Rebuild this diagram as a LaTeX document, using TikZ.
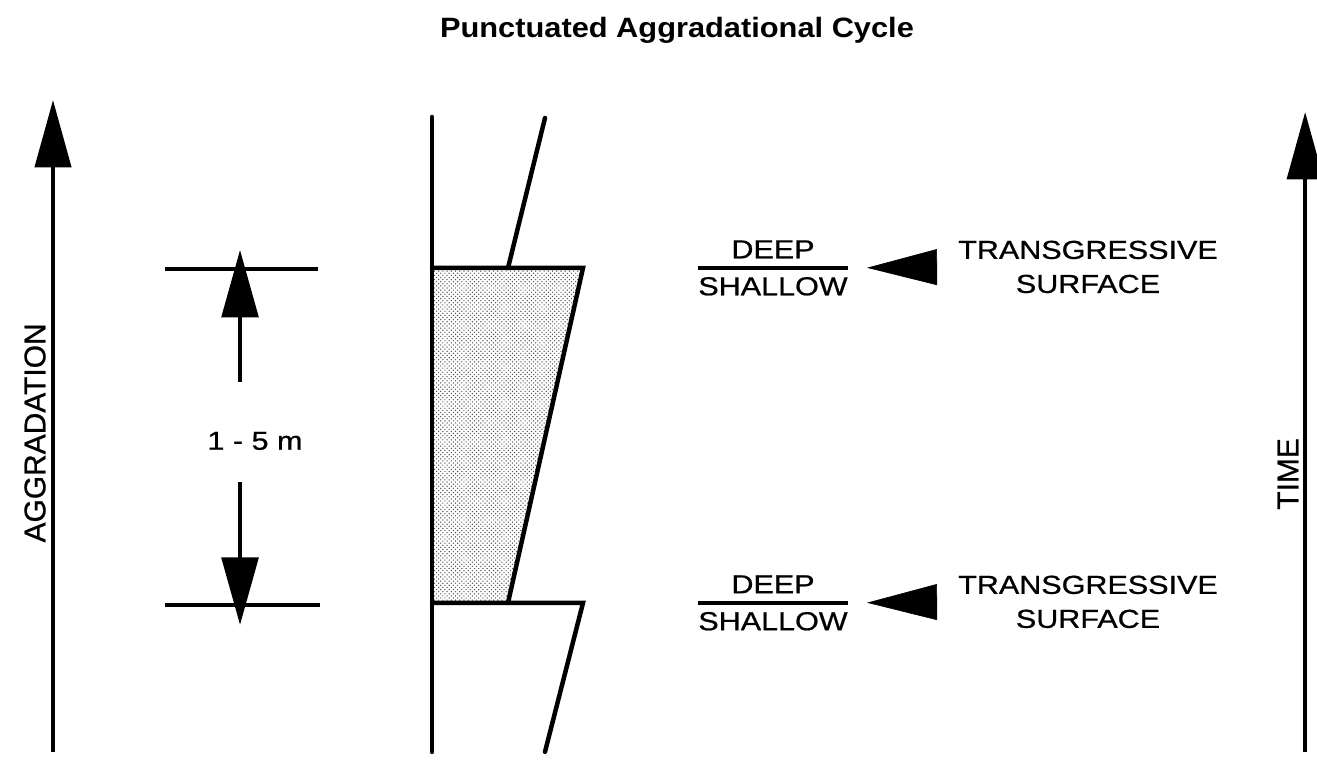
\documentclass[tikz,border=0pt]{standalone}
\usepackage{fontspec}
\setmainfont{Liberation Sans}
\newfontfamily\labfont[FakeBold=0.7]{Liberation Sans}
\usetikzlibrary{arrows.meta,patterns}

\begin{document}
\begin{tikzpicture}[x=0.01938cm,y=-0.025cm,xscale=1.29,
  lbl/.style={transform shape,xscale=0.91,inner sep=0pt,align=center,font=\labfont\fontsize{18.5}{24.2}\selectfont},
  frac/.style={lbl,font=\labfont\fontsize{18.5}{26.3}\selectfont},
  vlbl/.style={rotate=90,inner sep=0pt,font=\labfont\fontsize{21.3}{25}\selectfont},
  col/.style={line width=3.2pt,line cap=round},
  axis/.style={line width=3.2pt,-{Triangle[length=48pt,width=25.6pt]}},
  dimarrow/.style={line width=3pt,-{Triangle[length=48pt,width=26pt]}},
  surfarrow/.style={line width=0.4pt,-{Triangle[length=49.8pt,width=25.6pt]},shorten >=13.5pt,shorten <=14.9pt}]
\useasboundingbox (0,0) rectangle (1317,769);

% title
\node[transform shape,xscale=0.853,inner sep=0pt,font=\fontsize{19.9}{24}\selectfont\bfseries] (title) at (677,30) {Punctuated Aggradational Cycle};

% axes
\coordinate (agg0) at (53,752);
\coordinate (agg1) at (53,100);
\coordinate (time0) at (1305,752);
\coordinate (time1) at (1305,112);
\draw[axis] (agg0) -- (agg1);
\draw[axis] (time0) -- (time1);
\node[vlbl] (aggr) at (35,433) {AGGRADATION};
\node[vlbl] (time) at (1288,474) {TIME};

% column
\fill[pattern=crosshatch dots,pattern color=black!70] (432,268) -- (583,268) -- (508,603) -- (432,603) -- cycle;
\draw[col] (432,117) -- (432,752);
\draw[col] (545,118) -- (508,268);
\draw[col] (432,268) -- (583,268) -- (508,603);
\draw[col] (432,603) -- (583,603) -- (545,752);

% thickness bar
\draw[line width=3pt] (165,269) -- (318,269);
\draw[line width=3pt] (165,605) -- (320,605);
\coordinate (up0) at (240,382);
\coordinate (up1) at (240,250);
\coordinate (dn0) at (240,482);
\coordinate (dn1) at (240,625);
\draw[dimarrow] (up0) -- (up1);
\draw[dimarrow] (dn0) -- (dn1);
\node[lbl] (dim) at (255,441) {1 - 5 m};

% surfaces
\node[frac] (ds1) at (773,268) {DEEP\\SHALLOW};
\draw[line width=2.5pt] (ds1.west) -- (ds1.east);
\node[lbl] (ts1) at (1088,267) {TRANSGRESSIVE\\SURFACE};
\draw[surfarrow] (ts1.west) -- (ds1.east);

\node[frac] (ds2) at (773,603) {DEEP\\SHALLOW};
\draw[line width=2.5pt] (ds2.west) -- (ds2.east);
\node[lbl] (ts2) at (1088,602) {TRANSGRESSIVE\\SURFACE};
\draw[surfarrow] (ts2.west) -- (ds2.east);
\end{tikzpicture}
\end{document}
